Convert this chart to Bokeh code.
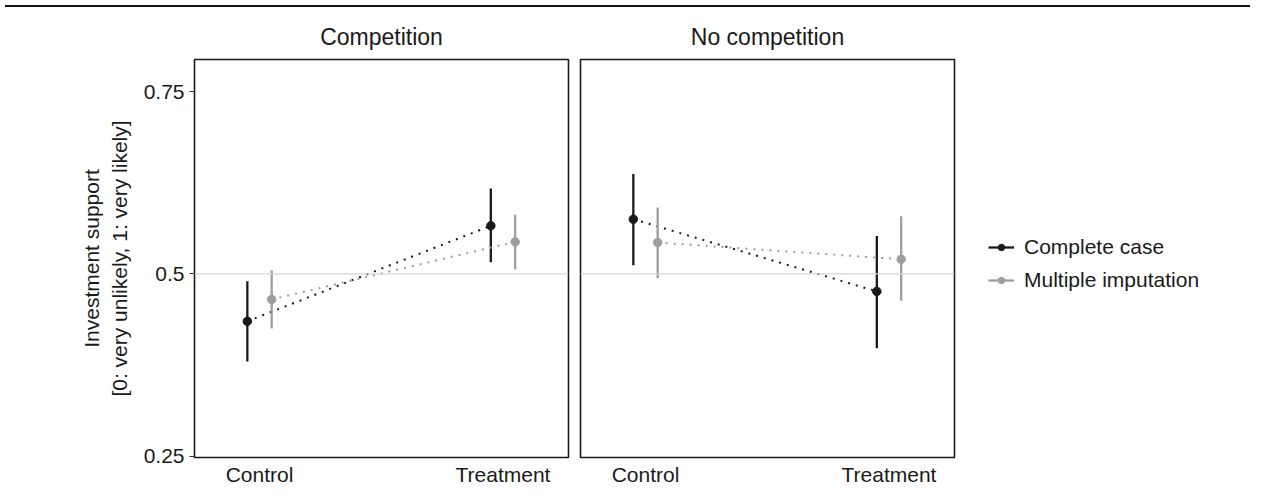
from bokeh.plotting import figure
from bokeh.layouts import row, column
from bokeh.models import (ColumnDataSource, FixedTicker, Span, Legend, LegendItem, Div, Range1d)
from bokeh.embed import file_html
from bokeh.resources import INLINE

# ---- data ----
categories = ["Control", "Treatment"]
panels = ["Competition", "No competition"]
series = ["Complete case", "Multiple imputation"]

comp_cc_est = [0.435, 0.566]
comp_cc_lo = [0.380, 0.516]
comp_cc_hi = [0.490, 0.617]
comp_mi_est = [0.465, 0.544]
comp_mi_lo = [0.425, 0.506]
comp_mi_hi = [0.505, 0.581]

nocomp_cc_est = [0.575, 0.476]
nocomp_cc_lo = [0.512, 0.398]
nocomp_cc_hi = [0.637, 0.552]
nocomp_mi_est = [0.543, 0.520]
nocomp_mi_lo = [0.494, 0.463]
nocomp_mi_hi = [0.591, 0.579]

y_ticks = [0.25, 0.5, 0.75]
y_tick_labels = ["0.25", "0.5", "0.75"]
ref_value = 0.5

# ---- style ----
FONT = "Liberation Sans"
BLACK = "#1a1a1a"
GREY = "#9e9e9e"
COLORS = [BLACK, GREY]
DODGE = 0.05
cat_pos = [i + 1 for i in range(len(categories))]

panel_data = {
    "Competition": [
        (comp_cc_est, comp_cc_lo, comp_cc_hi),
        (comp_mi_est, comp_mi_lo, comp_mi_hi),
    ],
    "No competition": [
        (nocomp_cc_est, nocomp_cc_lo, nocomp_cc_hi),
        (nocomp_mi_est, nocomp_mi_lo, nocomp_mi_hi),
    ],
}

H = 482
TOP = 47
BOTTOM = 37


def make_panel(name, first):
    if first:
        w, left, right = 574, 194, 6
    else:
        w, left, right = 382, 6, 2
    p = figure(width=w, height=H, output_backend="svg", toolbar_location=None,
               x_range=Range1d(0.733, 2.269), y_range=Range1d(0.2482, 0.794),
               min_border_left=left, min_border_right=right,
               min_border_top=TOP, min_border_bottom=BOTTOM, tools="")
    p.title.text = name
    p.title.align = "center"
    p.title.text_font = FONT
    p.title.text_font_size = "23px"
    p.title.text_font_style = "normal"
    p.title.text_color = BLACK
    p.title.standoff = 19
    p.outline_line_color = BLACK
    p.outline_line_width = 1.6
    p.outline_line_alpha = 1
    p.xgrid.visible = False
    p.ygrid.visible = False
    p.background_fill_color = "white"
    p.border_fill_color = "white"

    p.add_layout(Span(location=ref_value, dimension="width", line_color="#d6d6d6", line_width=1.2))

    for k, (est, lo, hi) in enumerate(panel_data[name]):
        color = COLORS[k]
        off = -DODGE if k == 0 else DODGE
        xs = [c + off for c in cat_pos]
        src = ColumnDataSource(dict(x=xs, est=est, lo=lo, hi=hi))
        p.line("x", "est", source=src, line_color=color, line_width=2.0, line_dash="2 6")
        p.segment("x", "lo", "x", "hi", source=src, line_color=color, line_width=2.3)
        p.scatter("x", "est", source=src, size=8.5, fill_color=color, line_color=color)

    # x axis
    xa = p.xaxis[0]
    xa.ticker = FixedTicker(ticks=cat_pos)
    xa.major_label_overrides = {c: lab for c, lab in zip(cat_pos, categories)}
    xa.major_tick_out = 0
    xa.major_tick_in = 0
    xa.minor_tick_out = 0
    xa.minor_tick_in = 0
    xa.axis_line_color = None
    xa.major_label_text_font = FONT
    xa.major_label_text_font_size = "21px"
    xa.major_label_text_color = BLACK
    xa.major_label_standoff = 5

    ya = p.yaxis[0]
    if first:
        ya.ticker = FixedTicker(ticks=y_ticks)
        ya.major_label_overrides = {t: lab for t, lab in zip(y_ticks, y_tick_labels)}
        ya.major_tick_out = 5
        ya.major_tick_in = 0
        ya.minor_tick_out = 0
        ya.minor_tick_in = 0
        ya.major_tick_line_color = "#333333"
        ya.axis_line_color = None
        ya.major_label_text_font = FONT
        ya.major_label_text_font_size = "21px"
        ya.major_label_text_color = BLACK
        ya.major_label_standoff = 5
        ya.axis_label = "Investment support\n[0: very unlikely, 1: very likely]"
        ya.axis_label_text_font = FONT
        ya.axis_label_text_font_size = "21px"
        ya.axis_label_text_font_style = "normal"
        ya.axis_label_text_color = BLACK
        ya.axis_label_standoff = 10
    else:
        ya.visible = False
    return p


p1 = make_panel(panels[0], True)
p2 = make_panel(panels[1], False)

# legend-only figure
p3 = figure(width=290, height=H, output_backend="svg", toolbar_location=None,
            x_range=Range1d(0, 1), y_range=Range1d(0, 1),
            min_border_left=0, min_border_right=0, min_border_top=0, min_border_bottom=0, tools="")
p3.axis.visible = False
p3.grid.visible = False
p3.outline_line_color = None
p3.background_fill_color = "white"
p3.border_fill_color = "white"
items = []
for k, name in enumerate(series):
    src = ColumnDataSource(dict(x=[-5.0], y=[-5.0]))
    seg = p3.segment("x", "y", "x", "y", source=src, line_color=COLORS[k], line_width=2.3)
    sc = p3.scatter("x", "y", source=src, size=8.5, fill_color=COLORS[k], line_color=COLORS[k])
    items.append(LegendItem(label=name, renderers=[seg, sc]))

legend = Legend(items=items, location=(32, 165), orientation="vertical",
                glyph_width=26, glyph_height=16, label_height=16, spacing=9,
                label_standoff=10, padding=0, margin=0,
                border_line_alpha=0, background_fill_alpha=0,
                label_text_font=FONT, label_text_font_size="21px", label_text_color=BLACK)
p3.add_layout(legend, "center")

top_rule = Div(width=1245, height=2, styles={"background-color": "#111111"})
layout = column(top_rule, row(p1, p2, p3, spacing=0), spacing=0)

open("out.html", "w").write(file_html(layout, INLINE))
